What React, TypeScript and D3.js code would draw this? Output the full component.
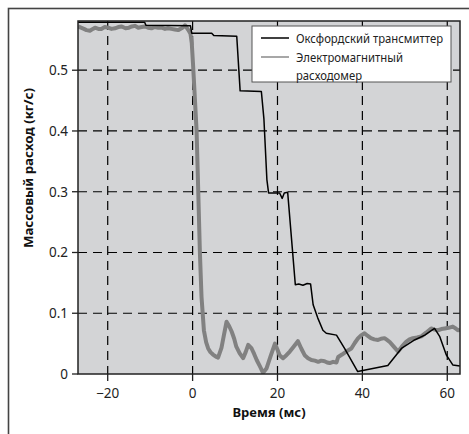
import React from "react";
import * as d3 from "d3";

const xTicks = [-20, 0, 20, 40, 60];
const yTicks = [0, 0.1, 0.2, 0.3, 0.4, 0.5];
const yTickLabels = ["0", "0.1", "0.2", "0.3", "0.4", "0.5"];
const xTickLabels = ["\u221220", "0", "20", "40", "60"];

const oxfordT = [-27, -11.3, -11.0, -0.5, -0.2, 4.5, 5.0, 10.4, 11.2, 16.2, 16.8, 17.5, 17.9, 20.5, 21.1, 21.6, 22.4, 24.2, 25.0, 26.0, 27.0, 27.8, 28.4, 29.5, 30.7, 31.5, 33.9, 35.8, 38.9, 46.0, 49.2, 52.3, 54.7, 57.0, 58.2, 59.8, 61.3, 63];
const oxfordV = [0.579, 0.579, 0.574, 0.573, 0.561, 0.561, 0.557, 0.556, 0.466, 0.465, 0.42, 0.32, 0.298, 0.298, 0.289, 0.298, 0.299, 0.147, 0.148, 0.146, 0.149, 0.148, 0.114, 0.092, 0.072, 0.067, 0.064, 0.042, 0.004, 0.014, 0.042, 0.056, 0.064, 0.075, 0.062, 0.031, 0.015, 0.013];

const emT = [-27, -26.3, -25.6, -25, -24.2, -23.5, -23, -22.2, -21.5, -20.7, -19.9, -19.1, -18.3, -17.5, -16.7, -15.8, -15, -14.3, -13.6, -12.8, -12, -11.2, -10.5, -9.7, -9, -8.1, -7.3, -6.5, -5.8, -5, -4.2, -3.4, -2.6, -2.2, -1.8, -1.4, -1.0, -0.5, -0.2, 0.1, 0.3, 0.94, 1.32, 1.72, 2.1, 2.66, 3.2, 3.67, 4.2, 4.8, 5.65, 6.0, 6.8, 7.4, 8.0, 8.6, 9.2, 9.8, 10.3, 11.1, 11.9, 12.5, 13.1, 13.9, 14.5, 15.1, 15.9, 16.6, 17.4, 18.4, 19.4, 20.0, 20.5, 21.3, 22.1, 22.9, 23.8, 24.8, 25.6, 26.4, 27.2, 28.0, 28.8, 29.6, 30.3, 31.1, 31.7, 32.3, 33.1, 33.9, 34.3, 35.2, 36.2, 37.4, 38.2, 39.0, 39.8, 40.5, 41.2, 42.0, 42.8, 43.7, 44.4, 45.2, 45.8, 46.4, 47.4, 48.4, 49.3, 50.3, 51.1, 51.9, 52.9, 53.9, 55.0, 56.2, 57.0, 57.8, 58.6, 59.4, 60.3, 61.3, 62.0, 62.5, 63];
const emV = [0.572, 0.57, 0.568, 0.566, 0.565, 0.568, 0.57, 0.568, 0.568, 0.571, 0.57, 0.568, 0.569, 0.571, 0.572, 0.569, 0.57, 0.572, 0.573, 0.57, 0.571, 0.572, 0.57, 0.569, 0.571, 0.57, 0.57, 0.568, 0.569, 0.568, 0.567, 0.566, 0.569, 0.571, 0.574, 0.57, 0.566, 0.56, 0.545, 0.51, 0.484, 0.40, 0.303, 0.2, 0.127, 0.072, 0.052, 0.042, 0.036, 0.032, 0.028, 0.027, 0.043, 0.065, 0.086, 0.079, 0.07, 0.058, 0.045, 0.034, 0.026, 0.036, 0.048, 0.042, 0.033, 0.023, 0.012, 0.002, 0.009, 0.03, 0.05, 0.04, 0.031, 0.026, 0.031, 0.037, 0.045, 0.054, 0.042, 0.031, 0.026, 0.023, 0.022, 0.02, 0.022, 0.021, 0.019, 0.018, 0.02, 0.019, 0.028, 0.032, 0.037, 0.042, 0.051, 0.059, 0.064, 0.067, 0.063, 0.059, 0.057, 0.056, 0.058, 0.059, 0.056, 0.053, 0.045, 0.037, 0.045, 0.053, 0.057, 0.059, 0.06, 0.062, 0.068, 0.075, 0.073, 0.072, 0.074, 0.075, 0.076, 0.078, 0.075, 0.072, 0.073];

const W = 469;
const H = 434;
const M = { left: 78, top: 21, right: 460, bottom: 374 };

export default function App() {
  const x = d3.scaleLinear().domain([-27, 63]).range([M.left, M.right]);
  const y = d3.scaleLinear().domain([0, 0.581]).range([M.bottom, M.top]);

  const mk = (ts: number[], vs: number[]) =>
    d3
      .line<number>()
      .x((t) => x(t))
      .y((_, i) => y(vs[i]))(ts) || "";

  const oxPath = mk(oxfordT, oxfordV);
  const emPath = mk(emT, emV);

  const font = "'Noto Sans', 'Open Sans', sans-serif";
  const pw = M.right - M.left;
  const ph = M.bottom - M.top;

  return (
    <svg
      width={W}
      height={H}
      style={{ position: "absolute", left: 0, top: 0 }}
      fontFamily={font}
    >
      <rect x={0} y={0} width={W} height={H} fill="#ffffff" />
      <rect x={8.5} y={8.5} width={600} height={600} fill="none" stroke="#444" strokeWidth={1.6} />
      <defs>
        <clipPath id="plotclip">
          <rect x={M.left} y={M.top} width={pw} height={ph} />
        </clipPath>
      </defs>
      <rect x={M.left} y={M.top} width={pw} height={ph} fill="#d3d4d6" />
      <g stroke="#000" strokeWidth={1.2} strokeDasharray="9,6" fill="none">
        {xTicks.map((t) => (
          <line key={"gx" + t} x1={x(t)} x2={x(t)} y1={M.top} y2={M.bottom} />
        ))}
        {yTicks.filter((v) => v > 0).map((v) => (
          <line key={"gy" + v} x1={M.left} x2={M.right} y1={y(v)} y2={y(v)} />
        ))}
      </g>
      <g clipPath="url(#plotclip)" fill="none" strokeLinejoin="round">
        <path d={emPath} stroke="#818181" strokeWidth={4} />
        <path d={oxPath} stroke="#000" strokeWidth={1.5} />
      </g>
      <rect x={M.left} y={M.top} width={pw} height={ph} fill="none" stroke="#222" strokeWidth={1.5} />
      <g stroke="#222" strokeWidth={1.3}>
        {xTicks.map((t) => (
          <line key={"tx" + t} x1={x(t)} x2={x(t)} y1={M.bottom} y2={M.bottom + 7} />
        ))}
        {yTicks.map((v) => (
          <line key={"ty" + v} x1={M.left - 6} x2={M.left} y1={y(v)} y2={y(v)} />
        ))}
      </g>
      <g fontSize={13.5} fill="#222">
        {xTicks.map((t, i) => (
          <text key={"lx" + t} x={x(t)} y={398} textAnchor="middle">
            {xTickLabels[i]}
          </text>
        ))}
        {yTicks.map((v, i) => (
          <text key={"ly" + v} x={68} y={y(v) + 5} textAnchor="end">
            {yTickLabels[i]}
          </text>
        ))}
      </g>
      <text x={(M.left + M.right) / 2} y={416.5} textAnchor="middle" fontSize={13} fontWeight="bold" fill="#111">
        Время (мс)
      </text>
      <text
        transform={`translate(33, 168) rotate(-90)`}
        textAnchor="middle"
        fontSize={13}
        fontWeight="bold"
        fill="#111"
        textLength={160}
        lengthAdjust="spacingAndGlyphs"
      >
        Массовый расход (кг/с)
      </text>
      <g>
        <rect x={252} y={26} width={199} height={56} fill="#fff" stroke="#555" strokeWidth={1} />
        <line x1={261} x2={289} y1={38} y2={38} stroke="#000" strokeWidth={1.5} />
        <line x1={261} x2={289} y1={57} y2={57} stroke="#8a8a8a" strokeWidth={1.5} />
        <g fontSize={12.5} fill="#222">
          <text x={296} y={42.5} textLength={147} lengthAdjust="spacingAndGlyphs">Оксфордский трансмиттер</text>
          <text x={296} y={61.5} textLength={107} lengthAdjust="spacingAndGlyphs">Электромагнитный</text>
          <text x={296} y={79.5} textLength={66} lengthAdjust="spacingAndGlyphs">расходомер</text>
        </g>
      </g>
    </svg>
  );
}
